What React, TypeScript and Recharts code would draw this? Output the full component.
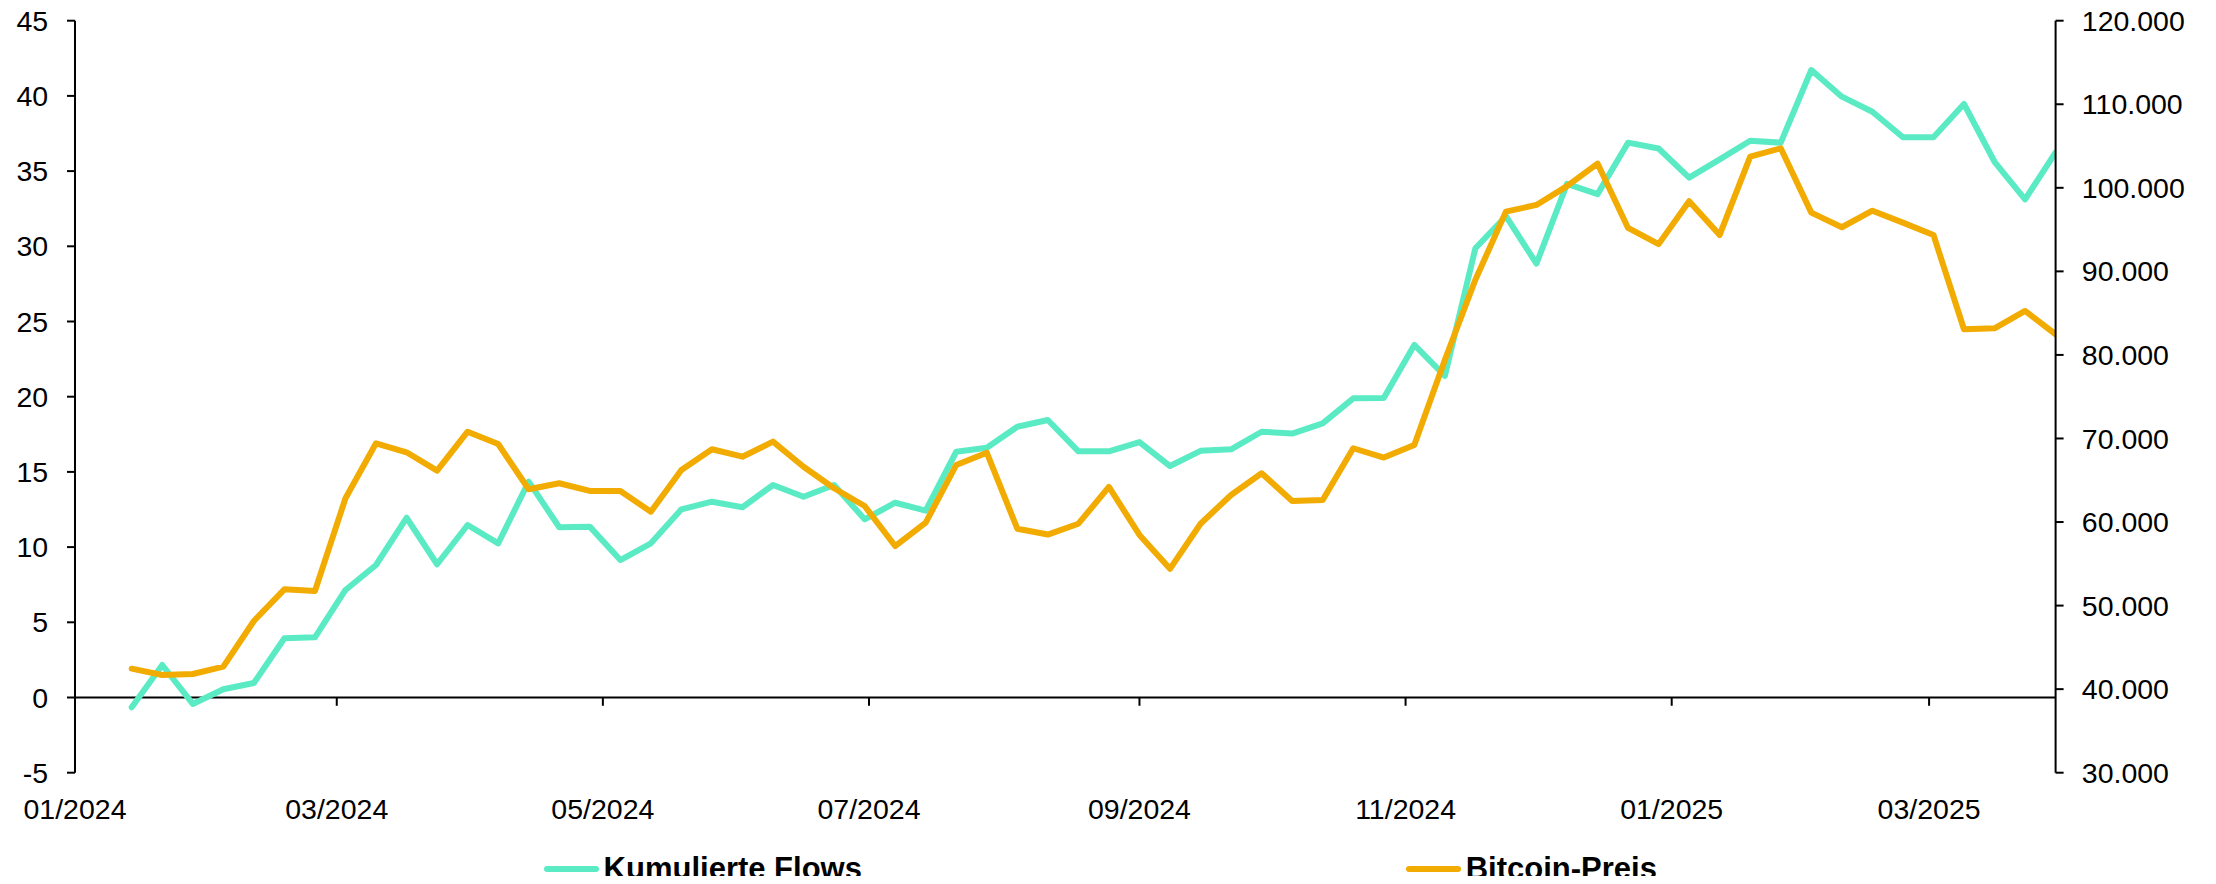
import React from "react";
import { LineChart, Line, XAxis, YAxis, ReferenceLine, Legend } from "recharts";

const weekDates = [
  "2024-01-14", "2024-01-21", "2024-01-28", "2024-02-04", "2024-02-11", "2024-02-18", "2024-02-25",
  "2024-03-03", "2024-03-10", "2024-03-17", "2024-03-24", "2024-03-31", "2024-04-07", "2024-04-14",
  "2024-04-21", "2024-04-28", "2024-05-05", "2024-05-12", "2024-05-19", "2024-05-26", "2024-06-02",
  "2024-06-09", "2024-06-16", "2024-06-23", "2024-06-30", "2024-07-07", "2024-07-14", "2024-07-21",
  "2024-07-28", "2024-08-04", "2024-08-11", "2024-08-18", "2024-08-25", "2024-09-01", "2024-09-08",
  "2024-09-15", "2024-09-22", "2024-09-29", "2024-10-06", "2024-10-13", "2024-10-20", "2024-10-27",
  "2024-11-03", "2024-11-10", "2024-11-17", "2024-11-24", "2024-12-01", "2024-12-08", "2024-12-15",
  "2024-12-22", "2024-12-29", "2025-01-05", "2025-01-12", "2025-01-19", "2025-01-26", "2025-02-02",
  "2025-02-09", "2025-02-16", "2025-02-23", "2025-03-02", "2025-03-09", "2025-03-16", "2025-03-23",
  "2025-03-30",
];

const cumulativeFlows = [
  -0.65, 2.16, -0.43, 0.55, 0.96, 3.94, 4.0, 7.15, 8.81, 11.95, 8.86, 11.47, 10.25, 14.35,
  11.32, 11.36, 9.14, 10.25, 12.51, 13.02, 12.65, 14.13, 13.35, 14.13, 11.85, 12.95, 12.42,
  16.34, 16.6, 18.0, 18.45, 16.37, 16.37, 16.98, 15.39, 16.4, 16.5, 17.67, 17.55, 18.23,
  19.89, 19.92, 23.44, 21.38, 29.87, 32.0, 28.85, 34.15, 33.47, 36.89, 36.5, 34.57, 35.78,
  37.02, 36.89, 41.72, 39.95, 38.95, 37.25, 37.25, 39.46, 35.62, 33.12, 36.25,
];

const bitcoinPrice = [
  42450, 41690, 41810, 42690, 48160, 51950, 51750, 62840, 69420, 68350, 66150, 70810, 69340, 63920,
  64640, 63720, 63720, 61240, 66230, 68710, 67820, 69620, 66620, 64040, 61920, 57130, 59920,
  66830, 68300, 59200, 58500, 59800, 64200, 58450, 54400, 59800, 63240, 65840, 62520, 62640,
  68830, 67720, 69220, 79400, 89000, 97150, 97950, 100200, 102900, 95200, 93260, 98400, 94360,
  103730, 104730, 97030, 95280, 97260, 95830, 94360, 83070, 83190, 85260, 82470,
];

const tickDates = ["2024-01-01", "2024-03-01", "2024-05-01", "2024-07-01", "2024-09-01", "2024-11-01", "2025-01-01", "2025-03-01"];
const tickLabels = ["01/2024", "03/2024", "05/2024", "07/2024", "09/2024", "11/2024", "01/2025", "03/2025"];

const leftTicks = [-5, 0, 5, 10, 15, 20, 25, 30, 35, 40, 45];
const rightTicks = [30000, 40000, 50000, 60000, 70000, 80000, 90000, 100000, 110000, 120000];

const seriesNames = ["Kumulierte Flows", "Bitcoin-Preis"];
const seriesColors = ["#5BEBC4", "#F2AB00"];

const startDate = "2024-01-01";
const endDate = "2025-03-30";

function dayOffset(s: string): number {
  const [y, m, d] = s.split("-").map(Number);
  const [y0, m0, d0] = startDate.split("-").map(Number);
  return Math.round((Date.UTC(y, m - 1, d) - Date.UTC(y0, m0 - 1, d0)) / 86400000);
}

const data = weekDates.map((dt, i) => ({
  d: dayOffset(dt),
  flows: cumulativeFlows[i],
  btc: bitcoinPrice[i],
}));

const tickValues = tickDates.map(dayOffset);
const labelByValue: Record<number, string> = {};
tickValues.forEach((v, i) => (labelByValue[v] = tickLabels[i]));

const fmtThousands = (v: number) => String(v).replace(/\B(?=(\d{3})+(?!\d))/g, ".");

const FONT = "'Liberation Sans', Arial, Helvetica, sans-serif";
const tickStyle = { fill: "#000", fontSize: 28.5, fontFamily: FONT };

const LegendContent = () => {
  const positions = [535.6, 1397.7];
  return (
    <div style={{ position: "relative", width: 2200, height: 30 }}>
      {seriesNames.map((name, i) => (
        <div
          key={name}
          style={{
            position: "absolute",
            left: positions[i],
            top: 0,
            height: 30,
            display: "flex",
            alignItems: "center",
          }}
        >
          <div style={{ width: 55, height: 6.5, borderRadius: 3.5, background: seriesColors[i] }} />
          <span
            style={{
              marginLeft: 5,
              fontFamily: FONT,
              fontWeight: "bold",
              fontSize: 31,
              lineHeight: "30px",
              color: "#000",
              whiteSpace: "nowrap",
            }}
          >
            {name}
          </span>
        </div>
      ))}
    </div>
  );
};

export default function App() {
  return (
    <div style={{ width: 2200, height: 884, marginTop: -8, marginBottom: -8, background: "#fff" }}>
      <LineChart
        width={2200}
        height={884}
        data={data}
        margin={{ top: 20.7, right: 12.4, left: 7, bottom: 51.3 }}
      >
        <XAxis
          dataKey="d"
          type="number"
          xAxisId="x"
          domain={[0, dayOffset(endDate)]}
          ticks={tickValues}
          interval={0}
          tickFormatter={(v: number) => labelByValue[v] ?? ""}
          axisLine={false}
          tickLine={false}
          tickSize={24}
          tickMargin={1.6}
          height={60}
          tick={tickStyle}
          allowDataOverflow
        />
        <YAxis
          yAxisId="left"
          orientation="left"
          domain={[-5, 45]}
          ticks={leftTicks}
          interval={0}
          width={60}
          tickSize={8}
          tickMargin={18.8}
          axisLine={{ stroke: "#000", strokeWidth: 2 }}
          tickLine={{ stroke: "#000", strokeWidth: 2 }}
          tick={tickStyle}
        />
        <YAxis
          yAxisId="right"
          orientation="right"
          domain={[30000, 120000]}
          ticks={rightTicks}
          interval={0}
          width={140}
          tickSize={8}
          tickMargin={18.2}
          tickFormatter={fmtThousands}
          axisLine={{ stroke: "#000", strokeWidth: 2 }}
          tickLine={{ stroke: "#000", strokeWidth: 2 }}
          tick={{ ...tickStyle, textAnchor: "start" }}
        />
        <ReferenceLine xAxisId="x" yAxisId="left" y={0} stroke="#000" strokeWidth={2} />
        {tickValues.slice(1).map((t) => (
          <ReferenceLine
            key={t}
            xAxisId="x"
            yAxisId="left"
            segment={[
              { x: t, y: 0 },
              { x: t, y: -0.55 },
            ]}
            stroke="#000"
            strokeWidth={2}
          />
        ))}
        <Line
          xAxisId="x"
          yAxisId="left"
          type="linear"
          dataKey="flows"
          name={seriesNames[0]}
          stroke={seriesColors[0]}
          strokeWidth={6}
          strokeLinejoin="round"
          strokeLinecap="round"
          dot={false}
          activeDot={false}
          isAnimationActive={false}
        />
        <Line
          xAxisId="x"
          yAxisId="right"
          type="linear"
          dataKey="btc"
          name={seriesNames[1]}
          stroke={seriesColors[1]}
          strokeWidth={6}
          strokeLinejoin="round"
          strokeLinecap="round"
          dot={false}
          activeDot={false}
          isAnimationActive={false}
        />
        <Legend
          layout="horizontal"
          verticalAlign="middle"
          align="center"
          content={<LegendContent />}
          wrapperStyle={{ top: 854, left: 0, width: 2200, height: 30 }}
        />
      </LineChart>
    </div>
  );
}
